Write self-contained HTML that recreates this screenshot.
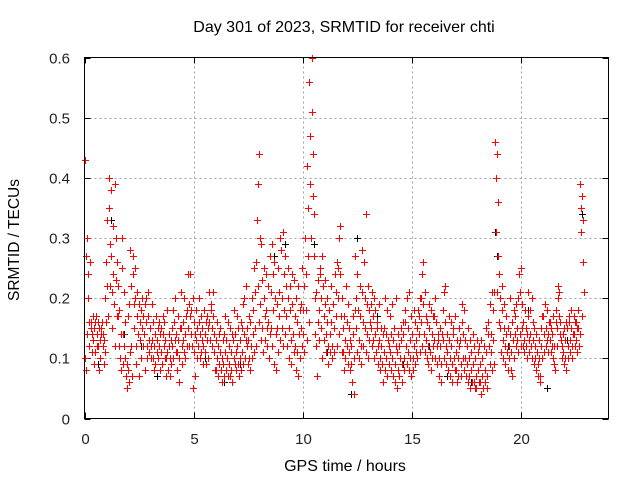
<!DOCTYPE html>
<html><head><meta charset="utf-8"><style>
html,body{margin:0;padding:0;background:#fff;}
svg{display:block;font-family:"Liberation Sans",sans-serif;}
</style></head><body>
<svg id="chart" width="640" height="480" xmlns="http://www.w3.org/2000/svg">
<rect x="0" y="0" width="640" height="480" fill="#fff"/>
<g id="grid"></g>
<g id="ticks"></g>
<g id="marks"></g>
<rect x="84.5" y="57.5" width="524" height="361" fill="none" stroke="#000" stroke-width="1"/>
<text x="344" y="32" font-size="16" text-anchor="middle">Day 301 of 2023, SRMTID for receiver chti</text>
<text x="345" y="471" font-size="16" text-anchor="middle">GPS time / hours</text>
<text transform="translate(19,240) rotate(-90)" font-size="15.5" text-anchor="middle">SRMTID / TECUs</text>
</svg>
<script>
const xTicks=[0,5,10,15,20];
const xTickLabels=["0","5","10","15","20"];
const yTicks=[0,0.1,0.2,0.3,0.4,0.5,0.6];
const yTickLabels=["0","0.1","0.2","0.3","0.4","0.5","0.6"];
const binStartHours=[0,0.1,0.2,0.3,0.4,0.5,0.6,0.7,0.8,0.9,1.0,1.1,1.2,1.3,1.4,1.5,1.6,1.7,1.8,1.9,2.0,2.1,2.2,2.3,2.4,2.5,2.6,2.7,2.8,2.9,3.0,3.1,3.2,3.3,3.4,3.5,3.6,3.7,3.8,3.9,4.0,4.1,4.2,4.3,4.4,4.5,4.6,4.7,4.8,4.9,5.0,5.1,5.2,5.3,5.4,5.5,5.6,5.7,5.8,5.9,6.0,6.1,6.2,6.3,6.4,6.5,6.6,6.7,6.8,6.9,7.0,7.1,7.2,7.3,7.4,7.5,7.6,7.7,7.8,7.9,8.0,8.1,8.2,8.3,8.4,8.5,8.6,8.7,8.8,8.9,9.0,9.1,9.2,9.3,9.4,9.5,9.6,9.7,9.8,9.9,10.0,10.1,10.2,10.3,10.4,10.5,10.6,10.7,10.8,10.9,11.0,11.1,11.2,11.3,11.4,11.5,11.6,11.7,11.8,11.9,12.0,12.1,12.2,12.3,12.4,12.5,12.6,12.7,12.8,12.9,13.0,13.1,13.2,13.3,13.4,13.5,13.6,13.7,13.8,13.9,14.0,14.1,14.2,14.3,14.4,14.5,14.6,14.7,14.8,14.9,15.0,15.1,15.2,15.3,15.4,15.5,15.6,15.7,15.8,15.9,16.0,16.1,16.2,16.3,16.4,16.5,16.6,16.7,16.8,16.9,17.0,17.1,17.2,17.3,17.4,17.5,17.6,17.7,17.8,17.9,18.0,18.1,18.2,18.3,18.4,18.5,18.6,18.7,18.8,18.9,19.0,19.1,19.2,19.3,19.4,19.5,19.6,19.7,19.8,19.9,20.0,20.1,20.2,20.3,20.4,20.5,20.6,20.7,20.8,20.9,21.0,21.1,21.2,21.3,21.4,21.5,21.6,21.7,21.8,21.9,22.0,22.1,22.2,22.3,22.4,22.5,22.6,22.7,22.8];
const redValues=[
[.43,.10,.08,.27],[.30,.14,.24,.20],[.16,.12,.26,.15],[.16,.11,.14,.17],[.13,.15,.09,.16],[.11,.17,.14,.12],[.12,.16,.08,.15],[.13,.10,.15,.14],[.16,.12,.14,.09],[.13,.20,.11,.16],
[.26,.33,.22,.17],[.35,.40,.29,.22],[.38,.27,.21,.15],[.32,.24,.19,.12],[.39,.30,.23,.17],[.26,.22,.17,.12],[.18,.10,.14,.08],[.30,.25,.14,.09],[.21,.12,.10,.16],[.07,.05,.09,.17],
[.08,.06,.19,.11],[.28,.22,.12,.07],[.27,.24,.19,.15],[.25,.20,.12,.09],[.21,.17,.14,.07],[.19,.16,.13,.10],[.18,.15,.20,.12],[.17,.14,.08,.19],[.20,.16,.12,.10],[.17,.21,.13,.11],
[.15,.12,.10,.19],[.13,.10,.16,.08],[.12,.14,.09,.17],[.11,.13,.15,.10],[.16,.12,.08,.14],[.15,.11,.09,.17],[.14,.12,.16,.10],[.13,.10,.07,.18],[.11,.08,.14,.12],[.10,.07,.13,.09],
[.15,.12,.18,.10],[.16,.13,.20,.11],[.14,.11,.08,.17],[.13,.06,.10,.15],[.21,.15,.12,.09],[.16,.13,.20,.11],[.14,.10,.17,.12],[.18,.15,.24,.12],[.19,.17,.24,.14],[.18,.12,.05,.20],
[.16,.11,.07,.14],[.13,.18,.10,.15],[.12,.16,.20,.10],[.14,.11,.17,.13],[.15,.12,.09,.18],[.11,.14,.16,.09],[.17,.13,.10,.15],[.21,.16,.13,.18],[.19,.15,.12,.21],[.17,.14,.11,.08],
[.13,.08,.10,.16],[.12,.07,.09,.14],[.11,.15,.08,.06],[.10,.13,.09,.07],[.14,.11,.17,.08],[.13,.10,.07,.16],[.12,.09,.15,.07],[.11,.08,.14,.06],[.13,.10,.18,.09],[.14,.11,.08,.17],
[.12,.09,.15,.07],[.10,.13,.08,.16],[.11,.15,.09,.19],[.14,.20,.10,.13],[.22,.15,.12,.09],[.13,.10,.17,.08],[.16,.12,.20,.10],[.18,.14,.11,.25],[.21,.15,.12,.26],[.33,.39,.22,.16],
[.44,.30,.19,.13],[.29,.23,.15,.11],[.25,.20,.13,.17],[.24,.18,.12,.15],[.22,.16,.10,.14],[.27,.21,.15,.12],[.29,.24,.18,.09],[.26,.20,.14,.08],[.19,.15,.11,.25],[.21,.17,.13,.30],
[.28,.20,.15,.12],[.31,.24,.18,.14],[.27,.22,.17,.12],[.25,.20,.15,.10],[.22,.18,.13,.09],[.24,.19,.14,.11],[.23,.17,.12,.08],[.20,.16,.11,.07],[.22,.14,.10,.18],[.19,.15,.12,.25],
[.18,.14,.11,.22],[.30,.24,.18,.13],[.42,.35,.27,.16],[.56,.47,.39,.30],[.60,.51,.44,.37],[.34,.27,.20,.14],[.21,.12,.07,.16],[.23,.18,.13,.25],[.24,.20,.15,.10],[.27,.22,.17,.13],
[.23,.19,.14,.11],[.20,.16,.12,.09],[.18,.14,.11,.22],[.16,.12,.10,.19],[.19,.15,.11,.24],[.21,.17,.12,.26],[.25,.20,.14,.30],[.32,.24,.17,.11],[.20,.15,.11,.08],[.17,.13,.10,.22],
[.16,.12,.09,.19],[.15,.11,.08,.13],[.12,.09,.06,.17],[.14,.10,.04,.18],[.27,.20,.15,.11],[.24,.18,.13,.10],[.22,.17,.12,.09],[.28,.21,.16,.12],[.26,.20,.15,.11],[.34,.19,.14,.10],
[.22,.18,.13,.16],[.19,.15,.12,.21],[.17,.13,.10,.20],[.18,.14,.11,.15],[.16,.12,.09,.19],[.13,.10,.08,.15],[.12,.09,.06,.14],[.15,.11,.08,.20],[.14,.10,.07,.18],[.13,.09,.12,.17],
[.11,.08,.14,.19],[.10,.07,.13,.15],[.09,.06,.12,.20],[.11,.05,.08,.14],[.12,.07,.10,.15],[.13,.09,.06,.16],[.14,.10,.08,.18],[.16,.12,.09,.20],[.15,.11,.08,.21],[.13,.10,.07,.17],
[.14,.10,.08,.18],[.12,.09,.16,.11],[.13,.15,.10,.18],[.17,.14,.11,.20],[.20,.16,.12,.24],[.26,.19,.14,.11],[.21,.17,.13,.10],[.16,.12,.09,.19],[.15,.11,.08,.18],[.14,.10,.17,.12],
[.17,.13,.10,.20],[.16,.12,.09,.14],[.13,.10,.07,.15],[.12,.09,.06,.14],[.18,.13,.10,.21],[.22,.16,.12,.09],[.14,.11,.08,.17],[.13,.10,.07,.16],[.12,.09,.06,.15],[.14,.10,.08,.17],
[.11,.08,.06,.13],[.10,.07,.12,.15],[.13,.09,.07,.16],[.19,.14,.10,.08],[.18,.13,.10,.07],[.12,.09,.06,.15],[.10,.07,.05,.13],[.11,.08,.06,.14],[.09,.06,.12,.05],[.10,.07,.05,.13],
[.11,.08,.06,.12],[.09,.06,.04,.13],[.10,.07,.05,.12],[.12,.08,.06,.15],[.11,.07,.05,.14],[.16,.12,.09,.19],[.14,.11,.08,.21],[.18,.13,.09,.21],[.46,.40,.31,.21],[.44,.36,.27,.16],
[.24,.20,.15,.11],[.22,.18,.13,.10],[.19,.15,.12,.09],[.17,.14,.11,.08],[.15,.12,.10,.20],[.14,.11,.08,.07],[.16,.13,.10,.18],[.17,.14,.12,.19],[.15,.13,.11,.20],[.24,.21,.14,.12],
[.25,.19,.15,.12],[.16,.13,.11,.18],[.15,.12,.10,.14],[.21,.17,.13,.11],[.18,.14,.12,.10],[.20,.16,.13,.09],[.15,.12,.10,.08],[.14,.11,.09,.07],[.13,.10,.07,.06],[.15,.12,.10,.17],
[.17,.14,.11,.19],[.19,.15,.12,.13],[.18,.14,.11,.16],[.16,.13,.11,.15],[.14,.12,.10,.17],[.12,.09,.08,.16],[.18,.15,.12,.20],[.22,.21,.17,.14],[.16,.13,.10,.12],[.14,.11,.09,.15],
[.13,.10,.08,.16],[.15,.12,.10,.17],[.16,.13,.11,.18],[.15,.12,.10,.14],[.17,.14,.12,.16],[.16,.13,.11,.15],[.18,.15,.12,.14],[.39,.35,.31,.17],[.37,.33,.26,.21]
];
const blackHours=[0.6,1.2,1.8,2.6,3.3,4.1,5.5,6.4,7.1,8.0,8.7,9.2,10.4,10.5,11.1,12.2,12.5,13.4,14.6,15.8,16.6,17.7,18.8,18.9,19.4,20.3,21.2,22.1,22.8];
const blackValues=[0.09,0.33,0.14,0.12,0.07,0.16,0.10,0.06,0.09,0.44,0.27,0.29,0.51,0.29,0.11,0.04,0.30,0.17,0.09,0.12,0.07,0.06,0.31,0.27,0.12,0.18,0.05,0.13,0.34];

const X0=84.5,X1=608.5,Y0=418.5,Y1=57.5;
const xScale=h=>X0+(h/24)*(X1-X0);
const yScale=v=>Y0-(v/0.6)*(Y0-Y1);
const NS="http://www.w3.org/2000/svg";
const grid=document.getElementById('grid'),ticks=document.getElementById('ticks'),marks=document.getElementById('marks');
function line(p,x1,y1,x2,y2,st,dash){const l=document.createElementNS(NS,'line');l.setAttribute('x1',x1);l.setAttribute('y1',y1);l.setAttribute('x2',x2);l.setAttribute('y2',y2);l.setAttribute('stroke',st);l.setAttribute('stroke-width',1);if(dash)l.setAttribute('stroke-dasharray',dash);p.appendChild(l);return l;}
function txt(x,y,s,anchor){const t=document.createElementNS(NS,'text');t.setAttribute('x',x);t.setAttribute('y',y);t.setAttribute('font-size','15');t.setAttribute('text-anchor',anchor);t.setAttribute('fill','#222');t.textContent=s;ticks.appendChild(t);return t;}
xTicks.forEach((h,i)=>{const x=Math.round(xScale(h))+0.5;
 if(h>0){const g=line(grid,x,Y0,x,Y1,'#a0a0a0','2,3');
 
 }
 line(ticks,x,Y0,x,Y0-6,'#000');line(ticks,x,Y1,x,Y1+6,'#000');
 const t=txt(x,444,xTickLabels[i],'middle');
 
 });
yTicks.forEach((v,i)=>{const y=Math.round(yScale(v))+0.5;
 if(v>0&&v<0.6){const g=line(grid,X0,y,X1,y,'#a0a0a0','2,3');
 
 }
 line(ticks,X0,y,X0+6,y,'#000');line(ticks,X1,y,X1-6,y,'#000');
 const t=txt(70,y+5,yTickLabels[i],'end');
 
 });
function plus(x,y,col,name){const p=document.createElementNS(NS,'path');
 p.setAttribute('d',`M${x-3.5},${y}H${x+3.5}M${x},${y-3.5}V${y+3.5}`);
 p.setAttribute('stroke',col);p.setAttribute('stroke-width','1');p.setAttribute('fill','none');
 
 
 marks.appendChild(p);}
blackHours.forEach((h,i)=>plus(Math.round(xScale(h))+0.5,Math.round(yScale(blackValues[i]))+0.5,'#000','black-point'));
binStartHours.forEach((h,i)=>{redValues[i].forEach((v,k)=>{
 plus(Math.round(xScale(h+k*0.025))+0.5,Math.round(yScale(v))+0.5,'#ff0000','red-point');});});
</script>
</body></html>
